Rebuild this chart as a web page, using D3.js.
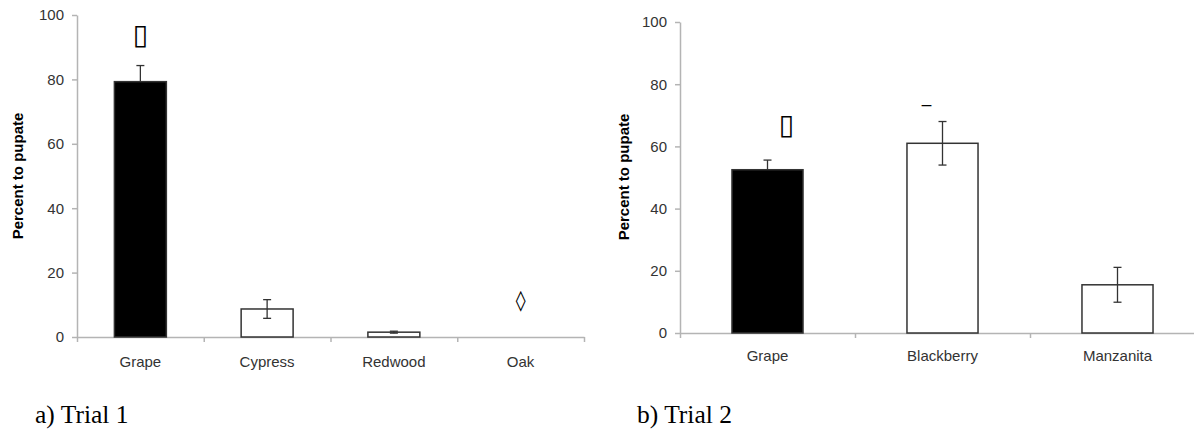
<!DOCTYPE html>
<html>
<head>
<meta charset="utf-8">
<script src="https://cdn.jsdelivr.net/npm/d3@7"></script>
<style>
  body { margin: 0; background: #fff; }
  svg { display: block; }
  .tick text { font-family: "Liberation Sans", Arial, sans-serif; }
</style>
</head>
<body>
<div id="chart"></div>
<script>
const width = 1194;
const height = 430;

// Trial 1 data
const trial1Categories = ['Grape', 'Cypress', 'Redwood', 'Oak'];
const trial1Values = [79.3, 8.7, 1.5, 0];
const trial1Errors = [5.0, 2.9, 0.3, 0];
const trial1Filled = [true, false, false, false];
const trial1Marks = ['▯', '', '', '◊'];
const trial1MarkY = [94, 0, 0, 11.5];

// Trial 2 data
const trial2Categories = ['Grape', 'Blackberry', 'Manzanita'];
const trial2Values = [52.5, 61.0, 15.5];
const trial2Errors = [3.1, 7.0, 5.6];
const trial2Filled = [true, false, false];
const trial2Marks = ['▯', '—', ''];
const trial2MarkY = [67, 73, 0];

const yTicks = [0, 20, 40, 60, 80, 100];

const svg = d3.select('#chart')
  .append('svg')
  .attr('width', width)
  .attr('height', height);

// Draw one panel
function drawPanel(opts) {
  const g = svg.append('g');

  const y = d3.scaleLinear().domain([0, 100]).range([opts.y0, opts.y1]);
  const x = d3.scaleBand()
    .domain(opts.categories)
    .range([opts.x0, opts.x1])
    .paddingInner(opts.pad)
    .paddingOuter(opts.pad / 2);

  // x axis with ticks between categories
  const xEdges = d3.scaleLinear().domain([0, opts.categories.length]).range([opts.x0, opts.x1]);
  const xAxis = g.append('g')
    .attr('transform', `translate(0,${opts.y0})`)
    .call(d3.axisBottom(xEdges)
      .tickValues(d3.range(opts.categories.length + 1))
      .tickSize(5)
      .tickSizeOuter(0)
      .tickFormat(''));
  xAxis.selectAll('path, line').attr('stroke', '#b4b4b4').attr('stroke-width', 1.5);

  // y axis
  const yAxis = g.append('g')
    .attr('transform', `translate(${opts.x0},0)`)
    .call(d3.axisLeft(y).tickValues(yTicks).tickSize(5).tickSizeOuter(0).tickPadding(8));
  yAxis.selectAll('path, line').attr('stroke', '#b4b4b4').attr('stroke-width', 1.5);
  yAxis.selectAll('text')
    .attr('font-size', 15)
    .attr('fill', '#333');

  // category labels
  g.selectAll('.cat')
    .data(opts.categories)
    .enter()
    .append('text')
    .attr('class', 'cat')
    .attr('x', d => x(d) + x.bandwidth() / 2)
    .attr('y', opts.labelY)
    .attr('text-anchor', 'middle')
    .attr('dominant-baseline', 'middle')
    .attr('font-family', '"Liberation Sans", Arial, sans-serif')
    .attr('font-size', 15)
    .attr('fill', '#333')
    .text(d => d);

  // bars
  g.selectAll('.bar')
    .data(opts.categories.filter((d, i) => opts.values[i] > 0))
    .enter()
    .append('rect')
    .attr('class', 'bar')
    .attr('x', d => x(d))
    .attr('width', x.bandwidth())
    .attr('y', d => y(opts.values[opts.categories.indexOf(d)]))
    .attr('height', d => y(0) - y(opts.values[opts.categories.indexOf(d)]))
    .style('fill', d => opts.filled[opts.categories.indexOf(d)] ? '#000' : '#fff')
    .style('stroke', '#333')
    .style('stroke-width', 1.5);

  // error bars (lower half hidden on filled bars)
  const cap = 4;
  opts.categories.forEach(function (d, i) {
    if (!opts.errors[i]) return;
    const cx = x(d) + x.bandwidth() / 2;
    const top = y(opts.values[i] + opts.errors[i]);
    const mid = y(opts.values[i]);
    const bot = y(opts.values[i] - opts.errors[i]);
    const eg = g.append('g').attr('stroke', '#333').attr('stroke-width', 1.3);
    eg.append('line').attr('x1', cx).attr('x2', cx).attr('y1', top).attr('y2', mid);
    eg.append('line').attr('x1', cx - cap).attr('x2', cx + cap).attr('y1', top).attr('y2', top);
    if (!opts.filled[i]) {
      eg.append('line').attr('x1', cx).attr('x2', cx).attr('y1', mid).attr('y2', bot);
      eg.append('line').attr('x1', cx - cap).attr('x2', cx + cap).attr('y1', bot).attr('y2', bot);
    }
  });

  // significance marks
  opts.categories.forEach(function (d, i) {
    if (!opts.marks[i]) return;
    g.append('text')
      .attr('x', x(d) + x.bandwidth() / 2 + opts.markDx[i])
      .attr('y', y(opts.markY[i]))
      .attr('text-anchor', 'middle')
      .attr('dominant-baseline', 'central')
      .attr('font-family', '"DejaVu Sans", sans-serif')
      .attr('font-size', opts.markSize[i])
      .attr('font-weight', 'bold')
      .attr('fill', '#000')
      .text(opts.marks[i]);
  });

  // y axis title
  g.append('text')
    .attr('transform', `translate(${opts.titleX},${opts.titleY}) rotate(-90)`)
    .attr('text-anchor', 'middle')
    .attr('dominant-baseline', 'central')
    .attr('font-family', '"Liberation Sans", Arial, sans-serif')
    .attr('font-weight', 'bold')
    .attr('font-size', 15)
    .attr('fill', '#000')
    .text('Percent to pupate');

  // caption
  g.append('text')
    .attr('x', opts.captionX)
    .attr('y', 423)
    .attr('font-family', '"Liberation Serif", "Times New Roman", serif')
    .attr('font-size', 25.5)
    .attr('fill', '#000')
    .text(opts.caption);
}

drawPanel({
  categories: trial1Categories,
  values: trial1Values,
  errors: trial1Errors,
  filled: trial1Filled,
  marks: trial1Marks,
  markY: trial1MarkY,
  markDx: [0, 0, 0, 0],
  markSize: [28, 0, 0, 20],
  x0: 77, x1: 584, y0: 337, y1: 15, pad: 0.59,
  labelY: 363,
  titleX: 17, titleY: 176,
  captionX: 35,
  caption: 'a) Trial 1'
});

drawPanel({
  categories: trial2Categories,
  values: trial2Values,
  errors: trial2Errors,
  filled: trial2Filled,
  marks: trial2Marks,
  markY: trial2MarkY,
  markDx: [19, -16, 0],
  markSize: [28, 11, 0],
  x0: 680, x1: 1205, y0: 333, y1: 22, pad: 0.594,
  labelY: 357,
  titleX: 623, titleY: 177,
  captionX: 637,
  caption: 'b) Trial 2'
});
</script>
</body>
</html>
